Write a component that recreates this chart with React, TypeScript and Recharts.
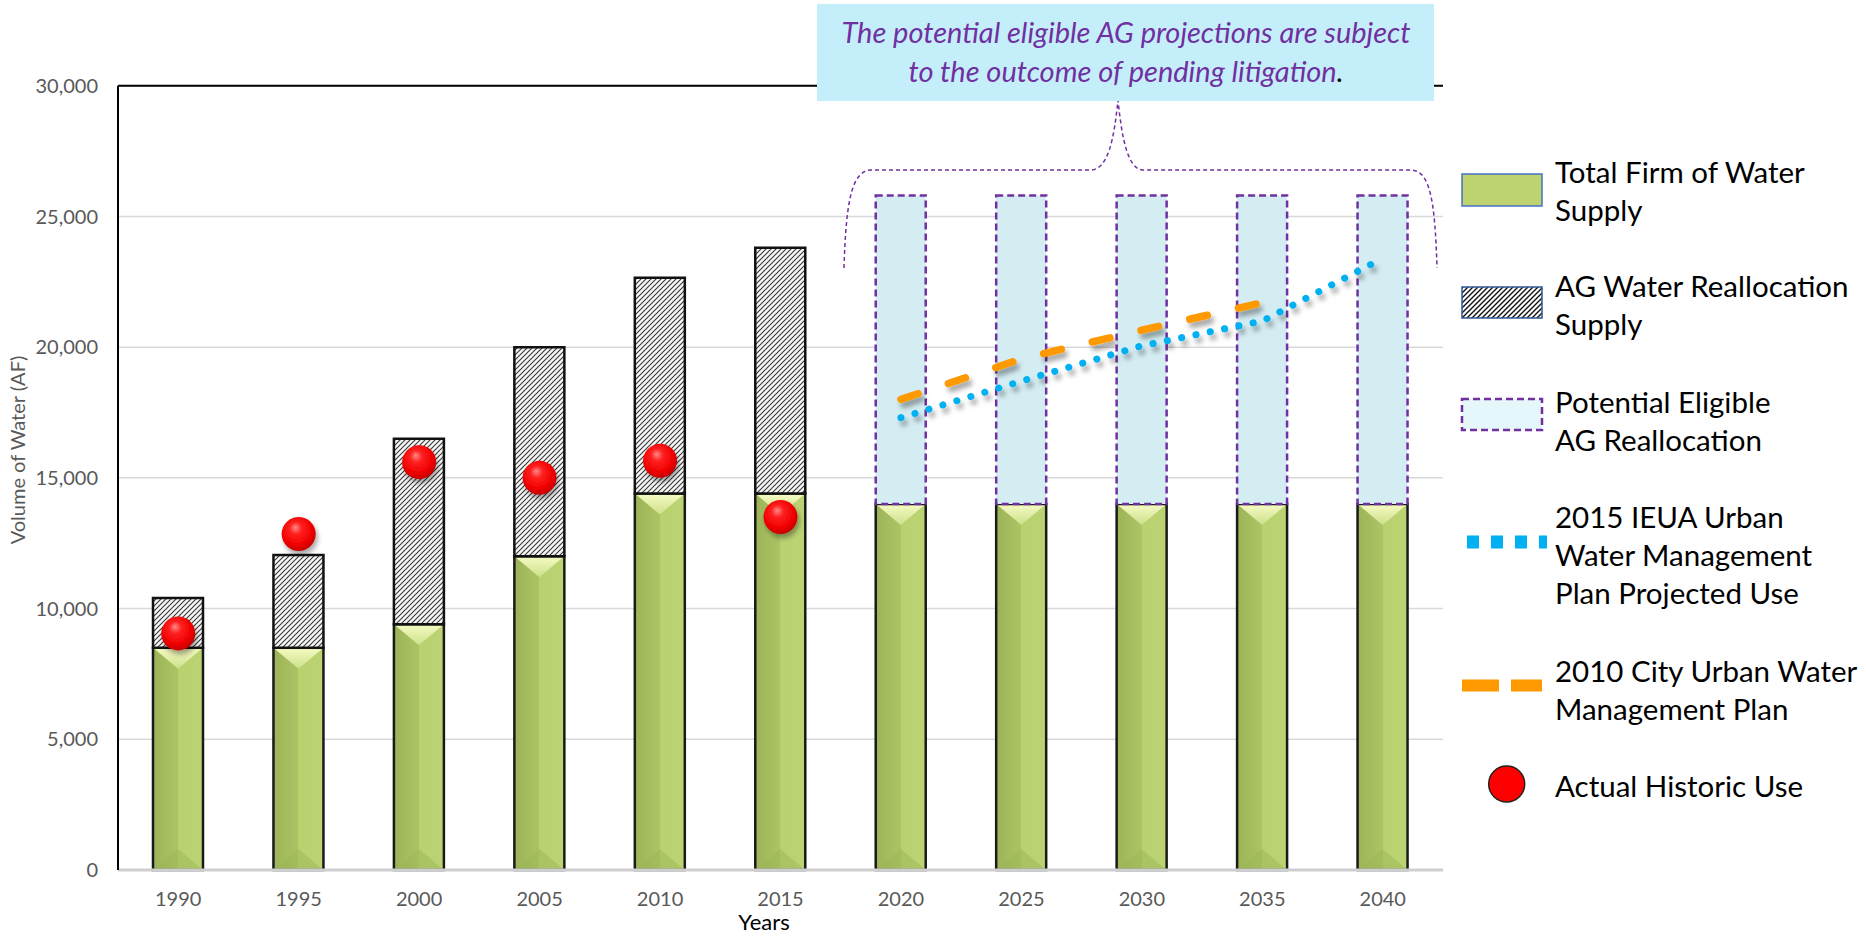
import React from "react";
import {
  ComposedChart,
  Bar,
  Line,
  XAxis,
  YAxis,
  CartesianGrid,
  ReferenceLine,
  Legend,
} from "recharts";

const years = ["1990", "1995", "2000", "2005", "2010", "2015", "2020", "2025", "2030", "2035", "2040"];
const firmSupply = [8500, 8500, 9400, 12000, 14400, 14400, 14000, 14000, 14000, 14000, 14000];
const agReallocation = [1900, 3550, 7100, 8000, 8250, 9400, 0, 0, 0, 0, 0];
const potentialAg = [0, 0, 0, 0, 0, 0, 11800, 11800, 11800, 11800, 11800];
const actualUse = [9050, 12850, 15600, 15000, 15650, 13500, null, null, null, null, null];
const ieuaProjected = [null, null, null, null, null, null, 17300, 18700, 20050, 21000, 23400];
const cityPlan2010 = [null, null, null, null, null, null, 18000, 19550, 20650, 21700, null];
const yTicks = [0, 5000, 10000, 15000, 20000, 25000, 30000];

const noteLines = ["The potential eligible AG projections are subject", "to the outcome of pending litigation"];

const legendLabels = {
  firm: ["Total Firm of Water", "Supply"],
  ag: ["AG Water Reallocation", "Supply"],
  pot: ["Potential Eligible", "AG Reallocation"],
  ieua: ["2015 IEUA Urban", "Water Management", "Plan Projected Use"],
  city: ["2010 City Urban Water", "Management Plan"],
  actual: ["Actual Historic Use"],
};

const data = years.map((year, i) => ({
  year,
  firm: firmSupply[i],
  ag: agReallocation[i],
  pot: potentialAg[i],
  actual: actualUse[i],
  ieua: ieuaProjected[i],
  city: cityPlan2010[i],
}));

const FONT = "Lato, 'Noto Sans', sans-serif";
const PURPLE = "#7030a0";

function FirmShape(props: any) {
  const { x, y, width: w, height: h } = props;
  if (!h || h <= 0) return null;
  const t = Math.min(w * 0.42, h / 2);
  return (
    <g>
      <rect x={x} y={y} width={w} height={h} fill="url(#greenBody)" />
      <polygon points={`${x},${y} ${x + w},${y} ${x + w / 2},${y + t}`} fill="url(#greenTop)" />
      <polygon points={`${x},${y + h} ${x + w},${y + h} ${x + w / 2},${y + h - t}`} fill="#9ab354" opacity={0.45} />
      <rect x={x} y={y} width={w} height={h} fill="none" stroke="#1a1a1a" strokeWidth={2.5} />
    </g>
  );
}

function BallDot(props: any) {
  const { cx, cy, index } = props;
  if (cy == null || isNaN(cy)) return <g key={`ball-${index}`} />;
  return (
    <circle key={`ball-${index}`} cx={cx} cy={cy} r={17} fill="url(#redBall)" filter="url(#ballShadow)" />
  );
}

function LegendBox() {
  const text = (lines: string[], y0: number) =>
    lines.map((s, i) => (
      <text key={s} x={115} y={y0 + i * 38} fontSize={29.5} fill="#000" fontFamily={FONT}>
        {s}
      </text>
    ));
  return (
    <svg width={426} height={700}>
      <defs>
        <pattern id="hatchLegend" patternUnits="userSpaceOnUse" width="5" height="5">
          <rect width="5" height="5" fill="#fff" />
          <path d="M-1,1 l2,-2 M0,5 l5,-5 M4,6 l2,-2" stroke="#111" strokeWidth="1.4" />
        </pattern>
      </defs>
      <rect x={22} y={34} width={80} height={32} fill="#bcd36f" stroke="#4472c4" strokeWidth={1.5} />
      {text(legendLabels.firm, 43)}
      <rect x={22} y={147} width={80} height={31} fill="url(#hatchLegend)" stroke="#2e5597" strokeWidth={1.5} />
      {text(legendLabels.ag, 157)}
      <rect x={22} y={259} width={80} height={31} fill="#e6f7fb" stroke={PURPLE} strokeWidth={2.5} strokeDasharray="7 4" />
      {text(legendLabels.pot, 273)}
      <line x1={27} y1={402} x2={107} y2={402} stroke="#00b0f0" strokeWidth={13} strokeDasharray="12 12" />
      {text(legendLabels.ieua, 388)}
      <line x1={22} y1={545.5} x2={102} y2={545.5} stroke="#ff9900" strokeWidth={12} strokeDasharray="37 12" />
      {text(legendLabels.city, 542)}
      <circle cx={66.7} cy={644} r={18} fill="#ff0000" stroke="#222" strokeWidth={1.5} />
      {text(legendLabels.actual, 657)}
    </svg>
  );
}

export default function App() {
  return (
    <div style={{ position: "absolute", left: 0, top: 0, width: 1866, height: 937, background: "#fff" }}>
      <ComposedChart
        width={1866}
        height={937}
        data={data}
        margin={{ top: 85.7, right: 423, bottom: 27, left: 18 }}
      >
        <defs>
          <linearGradient id="greenBody" x1="0" y1="0" x2="1" y2="0">
            <stop offset="0" stopColor="#9cb458" />
            <stop offset="0.5" stopColor="#acc464" />
            <stop offset="0.5" stopColor="#b9d16f" />
            <stop offset="1" stopColor="#bcd373" />
          </linearGradient>
          <linearGradient id="greenTop" x1="0" y1="0" x2="0" y2="1">
            <stop offset="0" stopColor="#f6fbc4" />
            <stop offset="1" stopColor="#cde08a" />
          </linearGradient>
          <pattern id="hatch" patternUnits="userSpaceOnUse" width="5" height="5">
            <rect width="5" height="5" fill="#f7f7f7" />
            <path d="M-1,1 l2,-2 M0,5 l5,-5 M4,6 l2,-2" stroke="#3a3a3a" strokeWidth="1.15" />
          </pattern>
          <radialGradient id="redBall" cx="0.45" cy="0.4" r="0.6" fx="0.4" fy="0.3">
            <stop offset="0" stopColor="#ff8a8a" />
            <stop offset="0.3" stopColor="#ff2020" />
            <stop offset="0.75" stopColor="#f00000" />
            <stop offset="1" stopColor="#c40000" />
          </radialGradient>
          <filter id="ballShadow" x="-40%" y="-40%" width="190%" height="190%">
            <feDropShadow dx="2" dy="4" stdDeviation="2.5" floodColor="#000" floodOpacity="0.35" />
          </filter>
          <filter id="lineShadow" x="-10%" y="-40%" width="125%" height="190%">
            <feDropShadow dx="3" dy="5" stdDeviation="2.5" floodColor="#000" floodOpacity="0.35" />
          </filter>
        </defs>
        <CartesianGrid vertical={false} stroke="#d9d9d9" strokeWidth={1.5} />
        <XAxis
          dataKey="year"
          height={40}
          tickLine={false}
          tickSize={0}
          tickMargin={22}
          axisLine={{ stroke: "#cfcfcf", strokeWidth: 3 }}
          tick={{ fill: "#595959", fontSize: 20, fontFamily: FONT }}
          interval={0}
        />
        <YAxis
          width={100}
          domain={[0, 30000]}
          ticks={yTicks}
          tickLine={false}
          tickSize={0}
          tickMargin={20}
          axisLine={{ stroke: "#000", strokeWidth: 2 }}
          tick={{ fill: "#595959", fontSize: 20, fontFamily: FONT }}
          tickFormatter={(v: number) => v.toLocaleString("en-US")}
          interval={0}
        />
        <YAxis
          yAxisId="frame"
          orientation="right"
          width={0}
          domain={[0, 30000]}
          tick={false}
          tickLine={false}
          axisLine={{ stroke: "#000", strokeWidth: 1.5 }}
        />
        <ReferenceLine y={30000} stroke="#000" strokeWidth={2} />
        <Bar dataKey="firm" stackId="s" barSize={50} shape={<FirmShape />} isAnimationActive={false} />
        <Bar dataKey="ag" stackId="s" barSize={50} fill="url(#hatch)" stroke="#111" strokeWidth={2.5} isAnimationActive={false} />
        <Bar
          dataKey="pot"
          stackId="s"
          barSize={50}
          fill="#d4edf3"
          stroke={PURPLE}
          strokeWidth={2.5}
          strokeDasharray="7 4"
          isAnimationActive={false}
        />
        <Line
          dataKey="city"
          type="linear"
          stroke="#ff9900"
          strokeWidth={7.5}
          strokeDasharray="18 32"
          strokeLinecap="round"
          dot={false}
          activeDot={false}
          filter="url(#lineShadow)"
          isAnimationActive={false}
        />
        <Line
          dataKey="ieua"
          type="linear"
          stroke="#00b0f0"
          strokeWidth={7}
          strokeDasharray="0.1 14.5"
          strokeLinecap="round"
          dot={false}
          activeDot={false}
          filter="url(#lineShadow)"
          isAnimationActive={false}
        />
        <Line dataKey="actual" stroke="none" dot={BallDot} activeDot={false} isAnimationActive={false} />
        <Legend
          layout="vertical"
          align="center"
          verticalAlign="middle"
          content={() => <LegendBox />}
          wrapperStyle={{ left: 1440, top: 140, width: 426, height: 700 }}
        />
      </ComposedChart>
      <svg
        width={1866}
        height={937}
        style={{ position: "absolute", left: 0, top: 0, pointerEvents: "none" }}
      >
        <path
          d="M844,268 C846,200 852,172 870,170 L1092,170 C1108,168 1114,140 1118,100 C1122,140 1128,168 1142,170 L1412,170 C1430,172 1435,200 1437,268"
          fill="none"
          stroke={PURPLE}
          strokeWidth={1.5}
          strokeDasharray="4 3"
        />
        <rect x={817} y={4} width={617} height={97} fill="#c5eefb" />
        <text x={1126} y={43} textAnchor="middle" fontSize={29} fontStyle="italic" fill={PURPLE} fontFamily={FONT}>
          {noteLines[0]}
        </text>
        <text x={1126} y={82} textAnchor="middle" fontSize={29} fontStyle="italic" fill={PURPLE} fontFamily={FONT}>
          {noteLines[1]}
          <tspan fill="#000">.</tspan>
        </text>
        <text
          transform="translate(25,450) rotate(-90)"
          textAnchor="middle"
          fontSize={20}
          fill="#595959"
          fontFamily={FONT}
        >
          Volume of Water (AF)
        </text>
        <text x={764} y={930} textAnchor="middle" fontSize={22} fill="#000" fontFamily={FONT}>
          Years
        </text>
      </svg>
    </div>
  );
}
